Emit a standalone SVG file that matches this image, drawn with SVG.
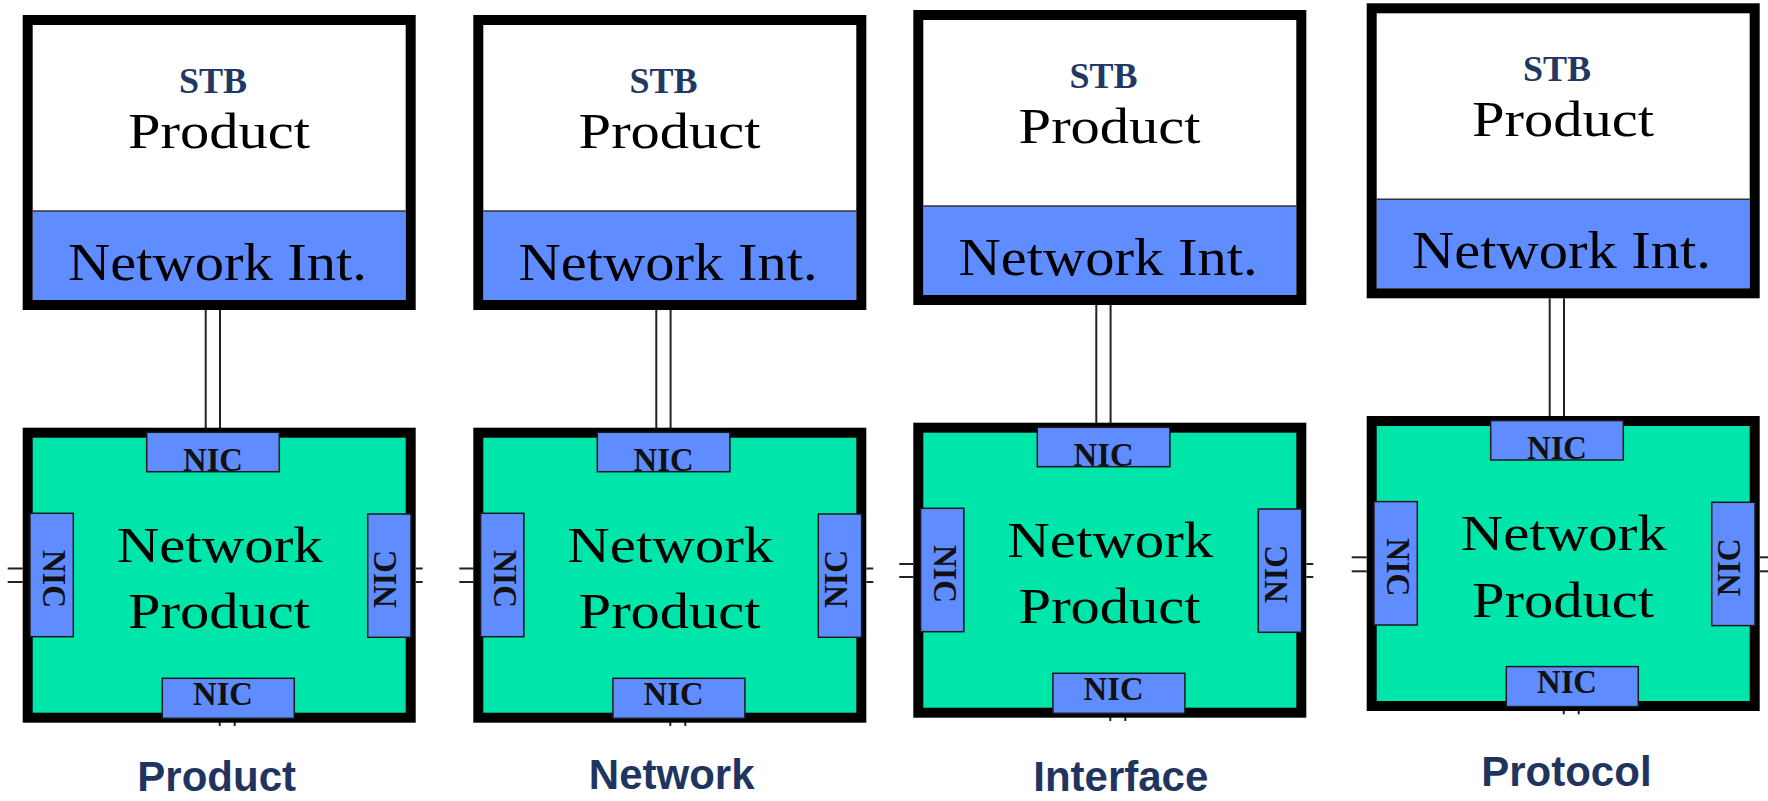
<svg xmlns="http://www.w3.org/2000/svg" width="1768" height="801" viewBox="0 0 1768 801">
<style>
.frame{fill:none;stroke:#000;stroke-width:10}
.white{fill:#fff}
.blue{fill:#5f8cff}
.green{fill:#00e6aa}
.div{stroke:#333;stroke-width:1.5}
.nic{fill:#5f8cff;stroke:#1a1a1a;stroke-width:1.5}
.stb{font-family:"Liberation Serif","Times New Roman",serif;font-weight:bold;font-size:36px;fill:#1f3864;text-anchor:middle}
.big{font-family:"Liberation Serif","Times New Roman",serif;font-size:50px;fill:#000;text-anchor:middle}
.nint{font-family:"Liberation Serif","Times New Roman",serif;font-size:53px;fill:#000;text-anchor:middle}
.nict{font-family:"Liberation Serif","Times New Roman",serif;font-weight:bold;font-size:33px;fill:#111;text-anchor:middle}
.lbl{font-family:"Liberation Sans",Arial,sans-serif;font-weight:bold;font-size:42px;fill:#1f3560;text-anchor:middle}
.ln{stroke:#222;stroke-width:2;fill:none}
</style>

<g id="connectors">
  <g transform="translate(22.7,15)">
    <line class="ln" x1="183" y1="295" x2="183" y2="413"/><line class="ln" x1="197.3" y1="295" x2="197.3" y2="413"/>
    <line class="ln" x1="-15" y1="553.5" x2="0" y2="553.5"/><line class="ln" x1="-15" y1="567" x2="0" y2="567"/>
    <line class="ln" x1="393" y1="553.5" x2="400" y2="553.5"/><line class="ln" x1="393" y1="567" x2="400" y2="567"/>
    <line class="ln" x1="197" y1="707" x2="197" y2="711"/><line class="ln" x1="212" y1="707" x2="212" y2="711"/>
  </g>
  <g transform="translate(473.3,15)">
    <line class="ln" x1="183" y1="295" x2="183" y2="413"/><line class="ln" x1="197.3" y1="295" x2="197.3" y2="413"/>
    <line class="ln" x1="-14" y1="553.5" x2="0" y2="553.5"/><line class="ln" x1="-14" y1="567" x2="0" y2="567"/>
    <line class="ln" x1="393" y1="553.5" x2="400" y2="553.5"/><line class="ln" x1="393" y1="567" x2="400" y2="567"/>
    <line class="ln" x1="197" y1="707" x2="197" y2="711"/><line class="ln" x1="212" y1="707" x2="212" y2="711"/>
  </g>
  <g transform="translate(913.3,10)">
    <line class="ln" x1="183" y1="295" x2="183" y2="413"/><line class="ln" x1="197.3" y1="295" x2="197.3" y2="413"/>
    <line class="ln" x1="-14" y1="554" x2="0" y2="554"/><line class="ln" x1="-14" y1="567" x2="0" y2="567"/>
    <line class="ln" x1="393" y1="554" x2="400" y2="554"/><line class="ln" x1="393" y1="567" x2="400" y2="567"/>
    <line class="ln" x1="197" y1="707" x2="197" y2="711"/><line class="ln" x1="212" y1="707" x2="212" y2="711"/>
  </g>
  <g transform="translate(1366.7,3.3)">
    <line class="ln" x1="183" y1="295" x2="183" y2="413"/><line class="ln" x1="197.3" y1="295" x2="197.3" y2="413"/>
    <line class="ln" x1="-15" y1="554" x2="0" y2="554"/><line class="ln" x1="-15" y1="568" x2="0" y2="568"/>
    <line class="ln" x1="393" y1="554" x2="402" y2="554"/><line class="ln" x1="393" y1="568" x2="402" y2="568"/>
    <line class="ln" x1="197" y1="707" x2="197" y2="711"/><line class="ln" x1="212" y1="707" x2="212" y2="711"/>
  </g>
</g>

<!-- Panel 1 -->
<g id="stb1" transform="translate(22.7,15)">
  <rect class="white" x="5" y="5" width="383" height="285"/>
  <rect class="blue" x="10" y="196" width="373" height="89"/>
  <line class="div" x1="10" y1="196" x2="383" y2="196"/>
  <rect class="frame" x="5" y="5" width="383" height="285"/>
  <text class="stb" x="190.3" y="77.5">STB</text>
  <text class="big" x="196.3" y="133" textLength="182" lengthAdjust="spacingAndGlyphs">Product</text>
  <text class="nint" x="194.8" y="265" textLength="299" lengthAdjust="spacingAndGlyphs">Network Int.</text>
</g>
<g id="net1" transform="translate(22.7,15)">
  <rect class="green" x="5" y="417.7" width="383" height="285"/>
  <rect class="frame" x="5" y="417.7" width="383" height="285"/>
  <rect class="nic" x="124" y="417.3" width="132.6" height="39.4"/>
  <rect class="nic" x="7.3" y="498.3" width="43.3" height="123.4"/>
  <rect class="nic" x="345" y="499" width="43.3" height="123.3"/>
  <rect class="nic" x="139.6" y="663.3" width="132" height="40"/>
  <text class="nict" x="190.3" y="456" textLength="60" lengthAdjust="spacingAndGlyphs">NIC</text>
  <text class="nict" x="200.3" y="690" textLength="60" lengthAdjust="spacingAndGlyphs">NIC</text>
  <text class="nict" x="20.5" y="564" transform="rotate(90 20.5 564)" textLength="58" lengthAdjust="spacingAndGlyphs">NIC</text>
  <text class="nict" x="373.5" y="564" transform="rotate(-90 373.5 564)" textLength="58" lengthAdjust="spacingAndGlyphs">NIC</text>
  <text class="big" x="197" y="546.7" textLength="206" lengthAdjust="spacingAndGlyphs">Network</text>
  <text class="big" x="196.3" y="613.3" textLength="182" lengthAdjust="spacingAndGlyphs">Product</text>
</g>

<!-- Panel 2 -->
<g id="stb2" transform="translate(473.3,15)">
  <rect class="white" x="5" y="5" width="383" height="285"/>
  <rect class="blue" x="10" y="196" width="373" height="89"/>
  <line class="div" x1="10" y1="196" x2="383" y2="196"/>
  <rect class="frame" x="5" y="5" width="383" height="285"/>
  <text class="stb" x="190.3" y="77.5">STB</text>
  <text class="big" x="196.3" y="133" textLength="182" lengthAdjust="spacingAndGlyphs">Product</text>
  <text class="nint" x="194.8" y="265" textLength="299" lengthAdjust="spacingAndGlyphs">Network Int.</text>
</g>
<g id="net2" transform="translate(473.3,15)">
  <rect class="green" x="5" y="417.7" width="383" height="285"/>
  <rect class="frame" x="5" y="417.7" width="383" height="285"/>
  <rect class="nic" x="124" y="417.3" width="132.6" height="39.4"/>
  <rect class="nic" x="7.3" y="498.3" width="43.3" height="123.4"/>
  <rect class="nic" x="345" y="499" width="43.3" height="123.3"/>
  <rect class="nic" x="139.6" y="663.3" width="132" height="40"/>
  <text class="nict" x="190.3" y="456" textLength="60" lengthAdjust="spacingAndGlyphs">NIC</text>
  <text class="nict" x="200.3" y="690" textLength="60" lengthAdjust="spacingAndGlyphs">NIC</text>
  <text class="nict" x="20.5" y="564" transform="rotate(90 20.5 564)" textLength="58" lengthAdjust="spacingAndGlyphs">NIC</text>
  <text class="nict" x="373.5" y="564" transform="rotate(-90 373.5 564)" textLength="58" lengthAdjust="spacingAndGlyphs">NIC</text>
  <text class="big" x="197" y="546.7" textLength="206" lengthAdjust="spacingAndGlyphs">Network</text>
  <text class="big" x="196.3" y="613.3" textLength="182" lengthAdjust="spacingAndGlyphs">Product</text>
</g>

<!-- Panel 3 -->
<g id="stb3" transform="translate(913.3,10)">
  <rect class="white" x="5" y="5" width="383" height="285"/>
  <rect class="blue" x="10" y="196" width="373" height="89"/>
  <line class="div" x1="10" y1="196" x2="383" y2="196"/>
  <rect class="frame" x="5" y="5" width="383" height="285"/>
  <text class="stb" x="190.3" y="77.5">STB</text>
  <text class="big" x="196.3" y="133" textLength="182" lengthAdjust="spacingAndGlyphs">Product</text>
  <text class="nint" x="194.8" y="265" textLength="299" lengthAdjust="spacingAndGlyphs">Network Int.</text>
</g>
<g id="net3" transform="translate(913.3,10)">
  <rect class="green" x="5" y="417.7" width="383" height="285"/>
  <rect class="frame" x="5" y="417.7" width="383" height="285"/>
  <rect class="nic" x="124" y="417.3" width="132.6" height="39.4"/>
  <rect class="nic" x="7.3" y="498.3" width="43.3" height="123.4"/>
  <rect class="nic" x="345" y="499" width="43.3" height="123.3"/>
  <rect class="nic" x="139.6" y="663.3" width="132" height="40"/>
  <text class="nict" x="190.3" y="456" textLength="60" lengthAdjust="spacingAndGlyphs">NIC</text>
  <text class="nict" x="200.3" y="690" textLength="60" lengthAdjust="spacingAndGlyphs">NIC</text>
  <text class="nict" x="20.5" y="564" transform="rotate(90 20.5 564)" textLength="58" lengthAdjust="spacingAndGlyphs">NIC</text>
  <text class="nict" x="373.5" y="564" transform="rotate(-90 373.5 564)" textLength="58" lengthAdjust="spacingAndGlyphs">NIC</text>
  <text class="big" x="197" y="546.7" textLength="206" lengthAdjust="spacingAndGlyphs">Network</text>
  <text class="big" x="196.3" y="613.3" textLength="182" lengthAdjust="spacingAndGlyphs">Product</text>
</g>

<!-- Panel 4 -->
<g id="stb4" transform="translate(1366.7,3.3)">
  <rect class="white" x="5" y="5" width="383" height="285"/>
  <rect class="blue" x="10" y="196" width="373" height="89"/>
  <line class="div" x1="10" y1="196" x2="383" y2="196"/>
  <rect class="frame" x="5" y="5" width="383" height="285"/>
  <text class="stb" x="190.3" y="77.5">STB</text>
  <text class="big" x="196.3" y="133" textLength="182" lengthAdjust="spacingAndGlyphs">Product</text>
  <text class="nint" x="194.8" y="265" textLength="299" lengthAdjust="spacingAndGlyphs">Network Int.</text>
</g>
<g id="net4" transform="translate(1366.7,3.3)">
  <rect class="green" x="5" y="417.7" width="383" height="285"/>
  <rect class="frame" x="5" y="417.7" width="383" height="285"/>
  <rect class="nic" x="124" y="417.3" width="132.6" height="39.4"/>
  <rect class="nic" x="7.3" y="498.3" width="43.3" height="123.4"/>
  <rect class="nic" x="345" y="499" width="43.3" height="123.3"/>
  <rect class="nic" x="139.6" y="663.3" width="132" height="40"/>
  <text class="nict" x="190.3" y="456" textLength="60" lengthAdjust="spacingAndGlyphs">NIC</text>
  <text class="nict" x="200.3" y="690" textLength="60" lengthAdjust="spacingAndGlyphs">NIC</text>
  <text class="nict" x="20.5" y="564" transform="rotate(90 20.5 564)" textLength="58" lengthAdjust="spacingAndGlyphs">NIC</text>
  <text class="nict" x="373.5" y="564" transform="rotate(-90 373.5 564)" textLength="58" lengthAdjust="spacingAndGlyphs">NIC</text>
  <text class="big" x="197" y="546.7" textLength="206" lengthAdjust="spacingAndGlyphs">Network</text>
  <text class="big" x="196.3" y="613.3" textLength="182" lengthAdjust="spacingAndGlyphs">Product</text>
</g>

<g id="labels">
  <text class="lbl" x="216.7" y="791">Product</text>
  <text class="lbl" x="671.7" y="789">Network</text>
  <text class="lbl" x="1120.8" y="791">Interface</text>
  <text class="lbl" x="1566.4" y="786">Protocol</text>
</g>
</svg>
